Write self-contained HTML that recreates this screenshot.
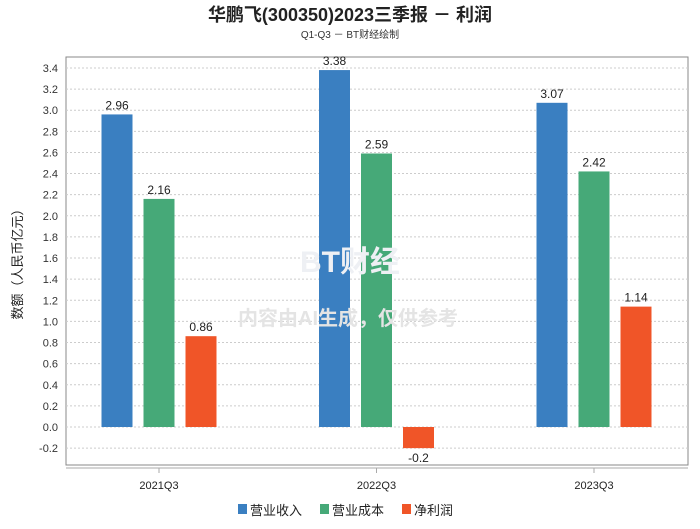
<!DOCTYPE html>
<html><head><meta charset="utf-8"><style>
body{margin:0;background:#fff;font-family:"Liberation Sans","Noto Sans CJK SC",sans-serif}
</style></head><body>
<svg id="chart" width="700" height="524" xmlns="http://www.w3.org/2000/svg" font-family="Liberation Sans, Noto Sans CJK SC, sans-serif">
<text x="350" y="21" text-anchor="middle" font-size="18" font-weight="bold" fill="#222">华鹏飞(300350)2023三季报 － 利润</text>
<text x="350" y="38" text-anchor="middle" font-size="10" fill="#333">Q1-Q3 － BT财经绘制</text>
<rect x="66" y="57" width="622" height="408" fill="none" stroke="#888" stroke-width="1"/>
<line x1="66" y1="468" x2="688" y2="468" stroke="#aaa"/>
<g id="grid"></g><g id="bars"></g><g id="labels"></g>
<text x="348" y="325" text-anchor="middle" font-size="20" font-weight="bold" fill="#e4e4e4">内容由AI生成，仅供参考</text>
<text x="350" y="272" text-anchor="middle" font-size="30" font-weight="bold" fill="#eef0f4">BT财经</text>
<text transform="translate(22,261) rotate(-90)" text-anchor="middle" font-size="13" fill="#222">数额（人民币亿元）</text>
<g>
<rect x="238" y="504" width="9" height="10" fill="#3a7fc1"/><text x="250" y="515" font-size="13" fill="#222">营业收入</text>
<rect x="320" y="504" width="9" height="10" fill="#46a978"/><text x="332" y="515" font-size="13" fill="#222">营业成本</text>
<rect x="402" y="504" width="9" height="10" fill="#f05528"/><text x="414" y="515" font-size="13" fill="#222">净利润</text>
</g>
</svg>
<script>
const categories=["2021Q3","2022Q3","2023Q3"];
const revenue=[2.96,3.38,3.07];
const cost=[2.16,2.59,2.42];
const profit=[0.86,-0.2,1.14];
const yTicks=[-0.2,0,0.2,0.4,0.6,0.8,1.0,1.2,1.4,1.6,1.8,2.0,2.2,2.4,2.6,2.8,3.0,3.2,3.4];
const NS="http://www.w3.org/2000/svg";
const y=v=>427-v*105.6;
const xc=i=>159+i*217.5;
function mk(t,a,p){const e=document.createElementNS(NS,t);for(const k in a)e.setAttribute(k,a[k]);p.appendChild(e);return e;}
const g=document.getElementById('grid'),b=document.getElementById('bars'),l=document.getElementById('labels');
yTicks.forEach(v=>{
 const ln=mk('line',{x1:66,x2:688,y1:y(v),y2:y(v),stroke:'#ccc','stroke-dasharray':'2,2'},g);
 
 
 const t=mk('text',{x:58,y:y(v)+4,'text-anchor':'end','font-size':11,fill:'#333'},g);
 
 
 t.textContent=v.toFixed(1);
});
const series=[[revenue,'#3a7fc1',-42],[cost,'#46a978',0],[profit,'#f05528',42]];
categories.forEach((c,i)=>{
 const t=mk('text',{x:xc(i),y:489,'text-anchor':'middle','font-size':11,fill:'#222'},l);
 
 
 t.textContent=c;
 mk('line',{x1:xc(i),x2:xc(i),y1:468,y2:473,stroke:'#aaa'},l);
 series.forEach(([arr,col,off])=>{
  const v=arr[i],cx=xc(i)+off;
  const top=Math.min(y(v),y(0)),h=Math.abs(y(v)-y(0));
  const r=mk('rect',{x:cx-15.5,y:top,width:31,height:h,fill:col},b);
  
  
  const vt=mk('text',{x:cx,y:v>=0?top-5:top+h+14,'text-anchor':'middle','font-size':12,fill:'#222'},l);
  
  
  vt.textContent=String(v);
 });
});
</script>
</body></html>
